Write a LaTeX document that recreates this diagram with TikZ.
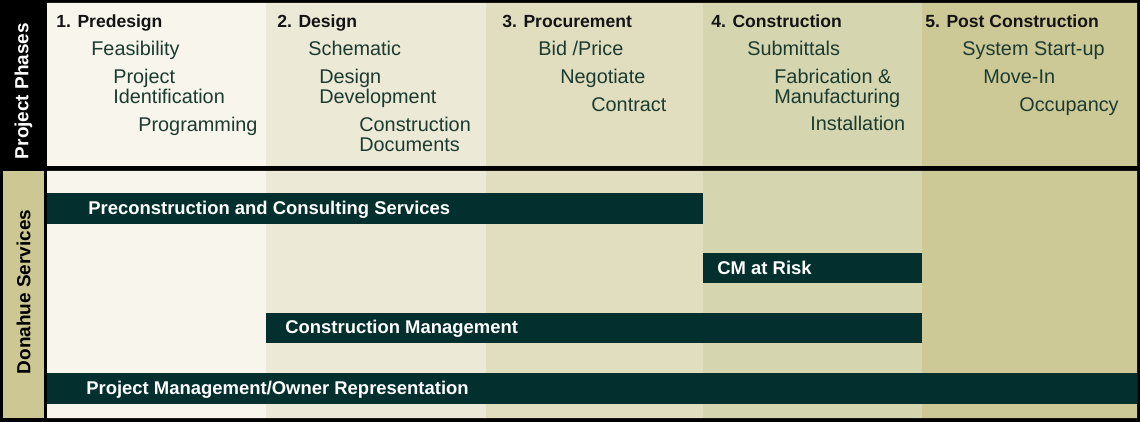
\documentclass[tikz,border=0pt]{standalone}
\usepackage{fontspec}
\setmainfont{Liberation Sans}
\definecolor{phaseA}{HTML}{F7F5EC}
\definecolor{phaseB}{HTML}{ECE9D6}
\definecolor{phaseC}{HTML}{E1DEC0}
\definecolor{phaseD}{HTML}{D5D6B0}
\definecolor{phaseE}{HTML}{CDC996}
\definecolor{tanlabel}{HTML}{CDC793}
\definecolor{barfill}{HTML}{03302F}
\definecolor{tasktext}{HTML}{1B3B31}
\definecolor{headtext}{HTML}{141414}
\begin{document}
\begin{tikzpicture}[x=0.02cm,y=-0.02cm,
    head/.style={anchor=base west,inner sep=0pt,font=\bfseries\fontsize{10}{12}\selectfont,text=headtext},
    task/.style={anchor=base west,inner sep=0pt,font=\fontsize{11.3}{13}\selectfont,text=tasktext},
    service/.style={anchor=base west,inner sep=0pt,font=\bfseries\fontsize{10.5}{12}\selectfont,text=white},
    rowlabel/.style={anchor=center,inner sep=0pt,rotate=90,font=\bfseries\fontsize{10.8}{12}\selectfont}]
  \useasboundingbox (0,0) rectangle (1140,422);
  \fill[black] (0,0) rectangle (1140,422);
  \fill[phaseA] (47,3) rectangle (266,166) (47,171) rectangle (266,418);
  \fill[phaseB] (266,3) rectangle (486,166) (266,171) rectangle (486,418);
  \fill[phaseC] (486,3) rectangle (703,166) (486,171) rectangle (703,418);
  \fill[phaseD] (703,3) rectangle (922,166) (703,171) rectangle (922,418);
  \fill[phaseE] (922,3) rectangle (1137,166) (922,171) rectangle (1137,418);
  \fill[tanlabel] (3,171) rectangle (44,418);
  \node (phases) [rowlabel,text=white] at (23.5,91) {Project Phases};
  \node (services) [rowlabel,text=black] at (23.5,292) {Donahue Services};
  \draw
    (56,28) node (predesign) [head] {1. Predesign}
    (91,56) node (feas) [task] {Feasibility}
    (113,83.5) node (ident1) [task] {Project}
    (113,104) node (ident2) [task] {Identification}
    (138,132) node (prog) [task] {Programming};
  \draw
    (277,28) node (design) [head] {2. Design}
    (308,56) node (schem) [task] {Schematic}
    (319,83.5) node (dd1) [task] {Design}
    (319,104) node (dd2) [task] {Development}
    (359,132) node (cd1) [task] {Construction}
    (359,152) node (cd2) [task] {Documents};
  \draw
    (502,28) node (procure) [head] {3. Procurement}
    (538,56) node (bid) [task] {Bid /Price}
    (560,84) node (nego) [task] {Negotiate}
    (591,111.5) node (contract) [task] {Contract};
  \draw
    (711,28) node (constr) [head] {4. Construction}
    (747,56) node (submit) [task] {Submittals}
    (774,83.5) node (fab1) [task] {Fabrication \&}
    (774,104) node (fab2) [task] {Manufacturing}
    (810,131) node (install) [task] {Installation};
  \draw
    (925,28) node (post) [head] {5. Post Construction}
    (962,56) node (startup) [task] {System Start-up}
    (983,84) node (movein) [task] {Move-In}
    (1019,111.5) node (occupy) [task] {Occupancy};
  \begin{scope}[barfill]
    \fill (47,193) rectangle (703,224);
    \fill (703,253) rectangle (922,283);
    \fill (266,313) rectangle (922,343);
    \fill (47,373) rectangle (1137,404);
  \end{scope}
  \draw
    (88,215) node (precon) [service] {Preconstruction and Consulting Services}
    (717,274.5) node (cmrisk) [service] {CM at Risk}
    (285,334) node (cm) [service] {Construction Management}
    (86,394.5) node (pm) [service] {Project Management/Owner Representation};
\end{tikzpicture}
\end{document}
